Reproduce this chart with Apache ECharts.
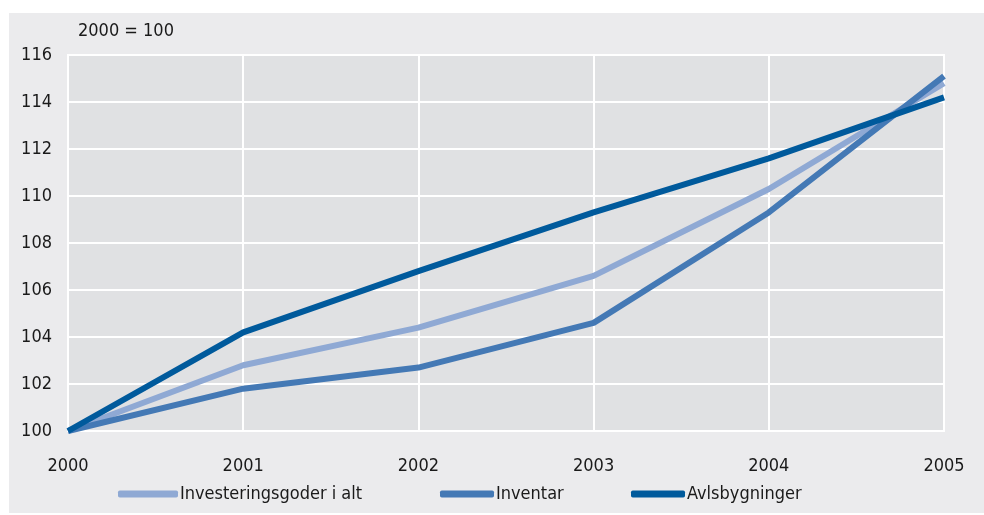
<!DOCTYPE html>
<html>
<head>
<meta charset="utf-8">
<script src="https://cdn.jsdelivr.net/npm/echarts@6/dist/echarts.min.js"></script>
<style>
  html, body { margin: 0; padding: 0; background: #fff; }
  #chart { width: 984px; height: 515px; }
</style>
</head>
<body>
<div id="chart"></div>
<script>
const years = ['2000', '2001', '2002', '2003', '2004', '2005'];
const investeringsgoder = [100, 102.8, 104.4, 106.6, 110.3, 114.8];
const inventar = [100, 101.8, 102.7, 104.6, 109.3, 115.1];
const avlsbygninger = [100, 104.2, 106.8, 109.3, 111.6, 114.2];

const FONT = '"DejaVu Sans Condensed", "Open Sans", sans-serif';
const TXT = '#1a1a1a';

const chart = echarts.init(document.getElementById('chart'), null, { renderer: 'canvas' });

const legendBase = {
  top: 485,
  padding: 0,
  itemWidth: 54,
  itemHeight: 7,
  icon: 'roundRect',
  textStyle: { fontFamily: FONT, fontSize: 18, color: TXT, padding: [0, 0, 0, -3] },
  selectedMode: false
};

chart.setOption({
  backgroundColor: '#ffffff',
  animation: false,
  graphic: [
    {
      type: 'rect',
      z: -10,
      shape: { x: 9, y: 13, width: 975, height: 500 },
      style: { fill: '#ebebed' }
    },
    {
      type: 'text',
      left: 78,
      top: 22,
      style: { text: '2000 = 100', fontFamily: FONT, fontSize: 18, fill: TXT }
    }
  ],
  grid: {
    left: 68, right: 40, top: 55, bottom: 84,
    show: true,
    backgroundColor: '#e0e1e3',
    borderColor: '#ffffff',
    borderWidth: 2
  },
  legend: [
    Object.assign({}, legendBase, { left: 118, itemWidth: 60, data: ['Investeringsgoder i alt'] }),
    Object.assign({}, legendBase, { left: 440, data: ['Inventar'] }),
    Object.assign({}, legendBase, { left: 631, data: ['Avlsbygninger'] })
  ],
  xAxis: {
    type: 'category',
    data: years,
    boundaryGap: false,
    axisLine: { show: false },
    axisTick: { show: false },
    axisLabel: { margin: 26, fontFamily: FONT, fontSize: 18, color: TXT },
    splitLine: { show: true, lineStyle: { color: '#ffffff', width: 2 } }
  },
  yAxis: {
    type: 'value',
    min: 100, max: 116, interval: 2,
    axisLine: { show: false },
    axisTick: { show: false },
    axisLabel: { margin: 16, fontFamily: FONT, fontSize: 18, color: TXT },
    splitLine: { show: true, lineStyle: { color: '#ffffff', width: 2 } }
  },
  series: [
    {
      name: 'Investeringsgoder i alt', type: 'line', data: investeringsgoder,
      symbol: 'none', color: '#8fa9d4', lineStyle: { width: 6 }
    },
    {
      name: 'Inventar', type: 'line', data: inventar,
      symbol: 'none', color: '#4479b5', lineStyle: { width: 6 }
    },
    {
      name: 'Avlsbygninger', type: 'line', data: avlsbygninger,
      symbol: 'none', color: '#005a9c', lineStyle: { width: 6 }, z: 3
    }
  ]
});
</script>
</body>
</html>
